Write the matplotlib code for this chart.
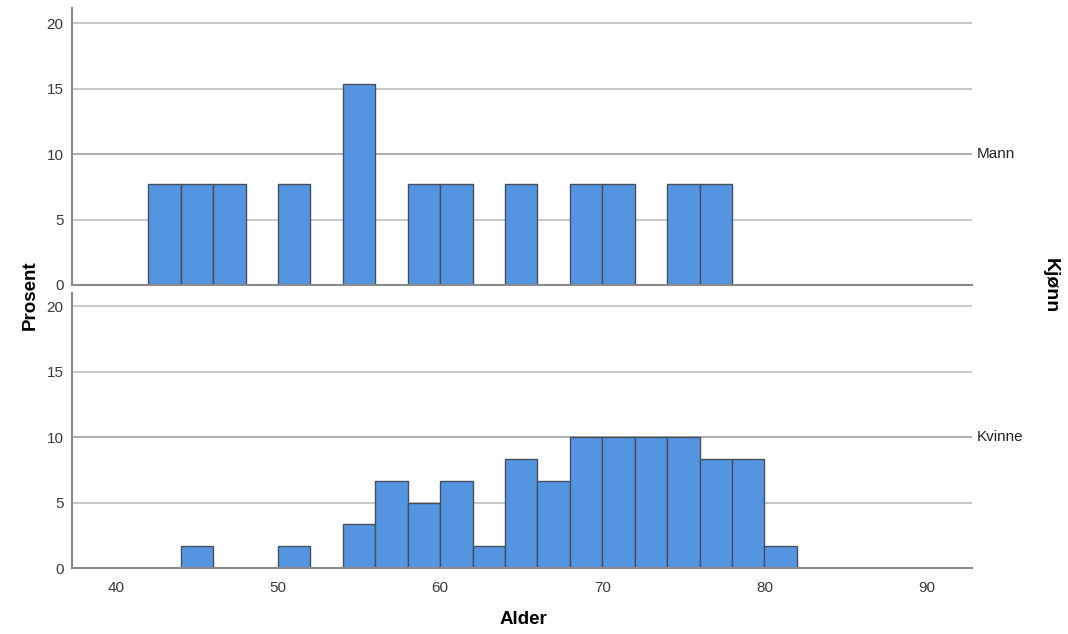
import matplotlib
matplotlib.use("Agg")
import matplotlib.pyplot as plt

plt.rcParams['font.family'] = ['Liberation Sans', 'DejaVu Sans']

# Age bins (left edges, width 2 years)
bin_starts = [42, 44, 46, 48, 50, 52, 54, 56, 58, 60, 62, 64, 66, 68, 70, 72, 74, 76, 78, 80]
bin_width = 2

# Percent within each gender
mann_pct = [7.69, 7.69, 7.69, 0, 7.69, 0, 15.38, 0, 7.69, 7.69, 0, 7.69, 0, 7.69, 7.69, 0, 7.69, 7.69, 0, 0]
kvinne_pct = [0, 1.67, 0, 0, 1.67, 0, 3.33, 6.67, 5.0, 6.67, 1.67, 8.33, 6.67, 10.0, 10.0, 10.0, 10.0, 8.33, 8.33, 1.67]

panels = ["Mann", "Kvinne"]
panel_values = [mann_pct, kvinne_pct]
x_ticks = [40, 50, 60, 70, 80, 90]
y_ticks = [0, 5, 10, 15, 20]

bar_color = "#5495e1"
edge_color = "#474f5a"
grid_color = "#c4c4c4"
spine_color = "#8a8a8a"

fig = plt.figure(figsize=(10.68, 6.34), dpi=100)
W, H = 1068, 634
left, right = 72 / W, 972 / W
boxes = [(8, 285), (293, 568)]
y_tops = [21.15, 21.0]

axes = []
for i, (name, vals) in enumerate(zip(panels, panel_values)):
    top_px, bot_px = boxes[i]
    ax = fig.add_axes([left, 1 - bot_px / H, right - left, (bot_px - top_px) / H])
    ax.set_xlim(37.3, 92.8)
    ax.set_ylim(0, y_tops[i])
    for yv in y_ticks[1:]:
        ax.axhline(yv, color="#a8a8a8" if yv == 10 else grid_color,
                   lw=1.3, zorder=0.5)
    ax.bar(bin_starts, vals, width=bin_width, align="edge",
           color=bar_color, edgecolor=edge_color, linewidth=1.0, zorder=2)
    for s in ["top", "right"]:
        ax.spines[s].set_visible(False)
    for s in ["left", "bottom"]:
        ax.spines[s].set_color(spine_color)
        ax.spines[s].set_linewidth(1.5)
    ax.spines["bottom"].set_zorder(3)
    ax.set_yticks(y_ticks)
    ax.set_xticks(x_ticks)
    ax.tick_params(axis="both", length=0, labelsize=11, colors="#3a3a3a", pad=6)
    ax.tick_params(axis="x", pad=9)
    if i == 0:
        ax.tick_params(axis="x", labelbottom=False)
    ax.text(1.005, 10, name, transform=ax.get_yaxis_transform(),
            ha="left", va="center", fontsize=11, color="#222222")
    axes.append(ax)

fig.text(30 / W, 1 - 295 / H, "Prosent", rotation=90, ha="center", va="center",
         fontsize=13.5, fontweight="bold")
fig.text(523 / W, 1 - 620 / H, "Alder", ha="center", va="center",
         fontsize=13.5, fontweight="bold")
fig.text(1050 / W, 1 - 286 / H, "Kjønn", rotation=-90, ha="center", va="center",
         fontsize=14, fontweight="bold")

fig.savefig("out.png", dpi=100, facecolor="white")
